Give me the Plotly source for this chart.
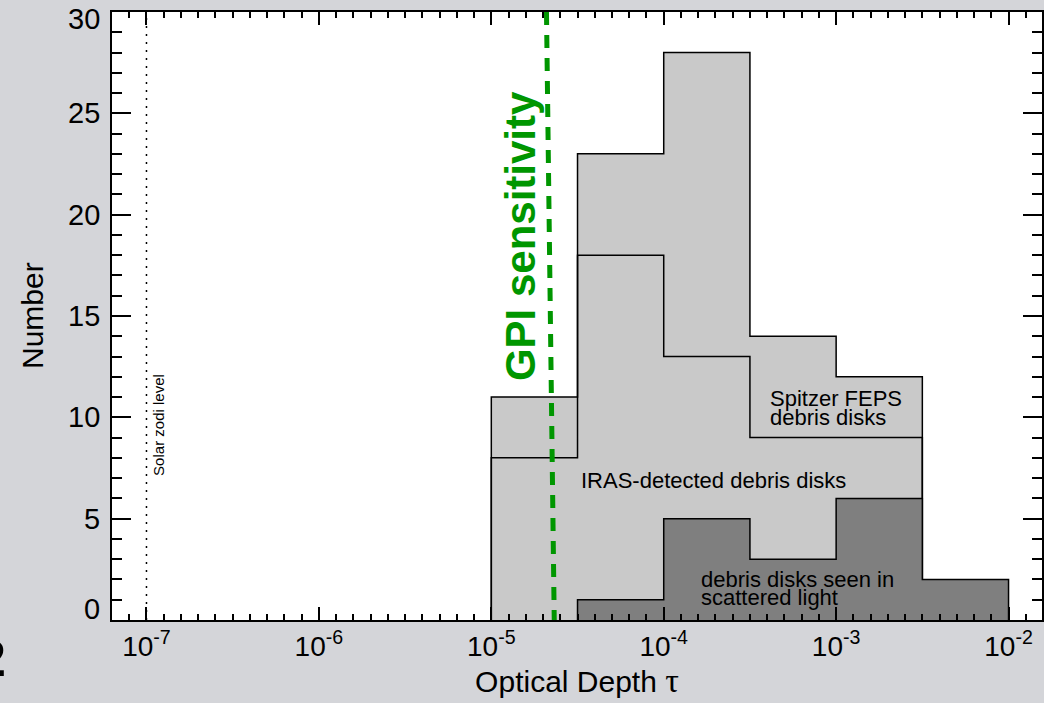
import plotly.graph_objects as go

# ---- data (log10 optical depth bin edges, counts) ----
feps_edges = [-5.0, -4.5, -4.0, -3.5, -3.0, -2.5]
feps_counts = [11, 23, 28, 14, 12]
iras_edges = [-5.0, -4.5, -4.0, -3.5, -3.0, -2.5]
iras_counts = [8, 18, 13, 9, 9]
scat_edges = [-4.5, -4.0, -3.5, -3.0, -2.5, -2.0]
scat_counts = [1, 5, 3, 6, 2]

x_tick_vals = [-7, -6, -5, -4, -3, -2]
x_tick_text = ["10<sup>-7</sup>", "10<sup>-6</sup>", "10<sup>-5</sup>",
               "10<sup>-4</sup>", "10<sup>-3</sup>", "10<sup>-2</sup>"]
y_tick_vals = [0, 5, 10, 15, 20, 25, 30]
y_tick_text = ["0", "5", "10", "15", "20", "25", "30"]

solar_zodi = -7.0
gpi_line_x = [-4.680, -4.635]
gpi_line_y = [30, 0]

FONT = "Liberation Sans, Arial, Helvetica, sans-serif"


def step_outline(edges, counts):
    xs = [edges[0]]
    ys = [0]
    for i, c in enumerate(counts):
        xs += [edges[i], edges[i + 1]]
        ys += [c, c]
    xs.append(edges[-1])
    ys.append(0)
    return xs, ys


fig = go.Figure()

fx, fy = step_outline(feps_edges, feps_counts)
fig.add_trace(go.Scatter(x=fx, y=fy, mode="lines", fill="toself",
                         fillcolor="#c9c9c9", line=dict(color="black", width=1.5),
                         hoverinfo="skip", showlegend=False))
ix, iy = step_outline(iras_edges, iras_counts)
fig.add_trace(go.Scatter(x=ix, y=iy, mode="lines",
                         line=dict(color="black", width=1.5),
                         hoverinfo="skip", showlegend=False))
sx, sy = step_outline(scat_edges, scat_counts)
fig.add_trace(go.Scatter(x=sx, y=sy, mode="lines", fill="toself",
                         fillcolor="#7f7f7f", line=dict(color="black", width=1.5),
                         hoverinfo="skip", showlegend=False))

# solar zodi dotted line
fig.add_trace(go.Scatter(x=[solar_zodi, solar_zodi], y=[0, 30], mode="lines",
                         line=dict(color="black", width=1.5, dash="2px,6px"),
                         hoverinfo="skip", showlegend=False))
# GPI sensitivity dashed line
fig.add_trace(go.Scatter(x=gpi_line_x, y=gpi_line_y, mode="lines",
                         line=dict(color="#009600", width=5, dash="13px,10px"),
                         hoverinfo="skip", showlegend=False))

annots = [
    dict(x=-4.827, y=18.95, text="<b>GPI sensitivity</b>", textangle=-90,
         font=dict(size=42, color="#009600", family=FONT)),
    dict(x=-6.934, y=9.62, text="Solar zodi level", textangle=-90,
         font=dict(size=15, color="black", family=FONT)),
    dict(x=-3.398, y=10.95, text="Spitzer FEPS", xanchor="left"),
    dict(x=-3.398, y=9.97, text="debris disks", xanchor="left"),
    dict(x=-4.492, y=6.86, text="IRAS-detected debris disks", xanchor="left"),
    dict(x=-3.797, y=2.02, text="debris disks seen in", xanchor="left"),
    dict(x=-3.797, y=1.13, text="scattered light", xanchor="left"),
]
for a in annots:
    a.setdefault("font", dict(size=22, color="black", family=FONT))
    a.setdefault("xanchor", "center")
    a.update(showarrow=False, xref="x", yref="y", yanchor="middle")
    fig.add_annotation(**a)

# y tick labels (end labels nudged inward as in the original)
for v, t in zip(y_tick_vals, y_tick_text):
    shift = 0
    if v == y_tick_vals[0]:
        shift = 11
    elif v == y_tick_vals[-1]:
        shift = -7
    fig.add_annotation(x=0, y=v, xref="paper", yref="y", text=t, showarrow=False,
                       xanchor="right", yanchor="middle", xshift=-10, yshift=shift,
                       font=dict(size=29, color="black", family=FONT))

# y axis title
fig.add_annotation(x=0, y=0.5, xref="paper", yref="paper", text="Number",
                   textangle=-90, showarrow=False, xanchor="center", yanchor="middle",
                   xshift=-80, font=dict(size=30, color="black", family=FONT))

# cropped slide number at the far left
fig.add_annotation(x=-0.1116, y=-0.064, xref="paper", yref="paper", text="<b>2</b>",
                   xanchor="right", yanchor="middle", showarrow=False,
                   font=dict(size=50, color="black", family=FONT))

fig.update_layout(
    width=1044, height=703,
    margin=dict(l=112, r=0, t=12, b=83),
    paper_bgcolor="#d4d5d9",
    plot_bgcolor="white",
    font=dict(family=FONT, color="black", size=28),
    xaxis=dict(
        range=[-7.2, -1.806], tickvals=x_tick_vals, ticktext=x_tick_text,
        ticks="inside", ticklen=13, tickwidth=1.5, tickcolor="black",
        showline=True, linecolor="black", linewidth=2, mirror="allticks",
        showgrid=False, zeroline=False,
        minor=dict(dtick=0.1, tick0=0, ticks="inside", ticklen=6, tickwidth=1.5,
                   tickcolor="black", showgrid=False),
        title=dict(text='Optical Depth <span style="font-family:Liberation Serif;font-size:34px">τ</span>',
                   font=dict(size=30), standoff=10),
        tickfont=dict(size=28),
    ),
    yaxis=dict(
        range=[0, 30], tickvals=y_tick_vals, showticklabels=False,
        ticks="inside", ticklen=19, tickwidth=1.5, tickcolor="black",
        showline=True, linecolor="black", linewidth=2, mirror="allticks",
        showgrid=False, zeroline=False,
        minor=dict(dtick=1, ticks="inside", ticklen=10, tickwidth=1.5,
                   tickcolor="black", showgrid=False),
    ),
)

fig.write_html("out.html")
